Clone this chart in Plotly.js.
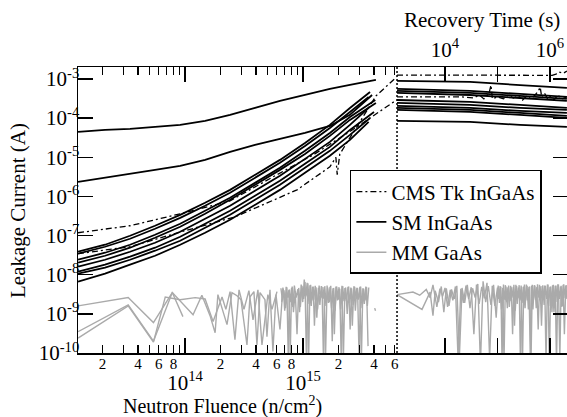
<!DOCTYPE html>
<html><head><meta charset="utf-8">
<script src="https://cdn.plot.ly/plotly-3.0.1.min.js"></script>
<style>html,body{margin:0;padding:0;background:#fff}</style>
</head><body><div id="chart" style="width:567px;height:417px"></div>
<script>
// ---------------- Axis ticks ----------------
const fluTickVals = [2e13,4e13,6e13,8e13,2e14,4e14,6e14,8e14,2e15,4e15,6e15];
const fluTickText = ['2','4','6','8','2','4','6','8','2','4','6'];
const fluMinorVals = [3e13,5e13,7e13,9e13,3e14,5e14,7e14,9e14,3e15,5e15];
const fluDecades = [1e14,1e15];
const fluDecadeText = ['10<sup>14</sup>','10<sup>15</sup>'];
const timeTickVals = [1e4,1e5,1e6];
const timeTickText = ['10<sup>4</sup>','','10<sup>6</sup>'];
const curTickVals = [1e-10,1e-9,1e-8,1e-7,1e-6,1e-5,1e-4,1e-3];
const curTickText = ['10<sup>-10</sup>','10<sup>-9</sup>','10<sup>-8</sup>','10<sup>-7</sup>','10<sup>-6</sup>','10<sup>-5</sup>','10<sup>-4</sup>','10<sup>-3</sup>'];

// ---------------- SM InGaAs: irradiation (fluence) ----------------
const smFluence = [1.24e13, 2.10e13, 3.42e13, 5.57e13, 9.1e13, 1.48e14, 2.41e14, 3.92e14, 6.38e14, 1.04e15, 1.69e15, 2.5e15];
const smEndFluence = [4.15e15, 3.85e15, 3.7e15, 3.6e15, 4.1e15, 4.15e15, 3.6e15, 4.0e15, 3.7e15, 3.6e15];
const smFluenceCurrents = [
  [4.45e-5, 5.0e-5, 5.3e-5, 5.96e-5, 6.71e-5, 8.48e-5, 1.21e-4, 1.82e-4, 2.75e-4, 3.9e-4, 5.56e-4, 7.03e-4, 9.43e-4],
  [2.36e-6, 2.98e-6, 3.77e-6, 4.77e-6, 6.03e-6, 8.58e-6, 1.37e-5, 2.07e-5, 2.95e-5, 4.19e-5, 6.32e-5, 1.21e-4, 3.9e-4],
  [3.86e-8, 5.83e-8, 9.88e-8, 1.78e-7, 3.39e-7, 6.87e-7, 1.47e-6, 3.56e-6, 8.58e-6, 2.33e-5, 6.71e-5, 1.82e-4, 4.66e-4],
  [3.43e-8, 5.18e-8, 8.29e-8, 1.49e-7, 2.84e-7, 5.76e-7, 1.24e-6, 2.98e-6, 7.2e-6, 1.95e-5, 5.62e-5, 1.44e-4, 3.47e-4],
  [2.41e-8, 3.64e-8, 5.83e-8, 1.05e-7, 2.0e-7, 4.29e-7, 9.2e-7, 2.22e-6, 5.37e-6, 1.46e-5, 4.19e-5, 1.07e-4, 2.91e-4],
  [2.02e-8, 3.05e-8, 4.89e-8, 8.79e-8, 1.68e-7, 3.6e-7, 8.19e-7, 1.98e-6, 4.77e-6, 1.22e-5, 3.52e-5, 9.0e-5, 2.44e-4],
  [1.6e-8, 2.41e-8, 3.86e-8, 6.55e-8, 1.25e-7, 2.68e-7, 5.76e-7, 1.39e-6, 3.35e-6, 9.1e-6, 2.47e-5, 6.71e-5, 1.82e-4],
  [1.19e-8, 1.8e-8, 2.88e-8, 4.89e-8, 9.32e-8, 2.0e-7, 4.29e-7, 1.04e-6, 2.5e-6, 6.79e-6, 1.84e-5, 5.0e-5, 1.44e-4],
  [1.06e-8, 1.51e-8, 2.41e-8, 4.1e-8, 7.37e-8, 1.58e-7, 3.39e-7, 8.19e-7, 1.98e-6, 5.37e-6, 1.46e-5, 3.73e-5, 1.01e-4],
  [6.63e-9, 1.06e-8, 1.8e-8, 3.05e-8, 5.83e-8, 1.18e-7, 2.53e-7, 6.1e-7, 1.47e-6, 4.0e-6, 1.09e-5, 2.78e-5, 8.0e-5]
];
// ---------------- SM InGaAs: recovery (time) ----------------
const smTime = [1.22e3, 3.0e4, 2.68e5, 2.1e6];
const smTimeCurrents = [
  [8.9e-4, 8.4e-4, 7.0e-4, 5.9e-4],
  [5.56e-4, 4.94e-4, 4.14e-4, 3.5e-4],
  [4.94e-4, 4.4e-4, 3.7e-4, 3.1e-4],
  [4.4e-4, 3.9e-4, 3.27e-4, 2.75e-4],
  [2.9e-4, 2.6e-4, 2.17e-4, 1.82e-4],
  [2.44e-4, 2.17e-4, 1.82e-4, 1.62e-4],
  [2.05e-4, 1.82e-4, 1.53e-4, 1.36e-4],
  [1.82e-4, 1.62e-4, 1.36e-4, 1.14e-4],
  [1.62e-4, 1.44e-4, 1.21e-4, 1.01e-4],
  [8.5e-5, 8.0e-5, 6.7e-5, 6.0e-5]
];

// ---------------- CMS Tk InGaAs ----------------
const cmsAFluence = [1.24e13, 3.42e13, 9.1e13, 2.41e14, 5.57e14, 1.22e15, 2.87e15, 6.2e15];
const cmsACurrent = [1.18e-7, 1.78e-7, 3.6e-7, 7.7e-7, 3.16e-6, 1.15e-5, 5.97e-5, 2.9e-4];
const cmsBFluence = [1.24e13, 3.42e13, 8.7e13, 2.65e14, 8.9e14, 1.69e15, 1.9e15, 1.95e15, 2.05e15, 2.76e15, 4.16e15, 6.2e15];
const cmsBCurrent = [3.44e-8, 5.2e-8, 1.18e-7, 3.0e-7, 1.47e-6, 5.7e-6, 1.0e-5, 3.6e-6, 1.2e-5, 5.0e-5, 3.7e-4, 1.12e-3];
const cmsATime = [1.22e3, 2e4, 3.5e4, 4.5e4, 5.5e4, 6.3e4, 7.0e4, 7.5e4, 8.0e4, 1.0e5, 1.3e5, 1.6e5, 2.0e5, 2.5e5, 3.0e5, 3.6e5, 4.3e5, 5.2e5, 6.0e5, 6.5e5, 7.0e5, 8.0e5, 9.0e5, 1.0e6, 1.2e6, 1.4e6, 1.7e6, 2.1e6];
const cmsATimeCurrent = [3.5e-4, 3.5e-4, 3.27e-4, 3.9e-4, 3.1e-4, 3.7e-4, 4.65e-4, 7.0e-4, 3.1e-4, 3.5e-4, 3.1e-4, 3.9e-4, 3.27e-4, 3.7e-4, 2.9e-4, 3.7e-4, 3.1e-4, 3.9e-4, 4.94e-4, 6.2e-4, 3.27e-4, 4.14e-4, 3.1e-4, 3.7e-4, 2.9e-4, 3.9e-4, 3.1e-4, 3.5e-4];
const cmsBTime = [1.22e3, 1.0e5, 1.1e6, 1.3e6, 1.5e6, 1.8e6, 2.1e6];
const cmsBTimeCurrent = [1.26e-3, 1.26e-3, 1.24e-3, 1.33e-3, 1.5e-3, 1.4e-3, 1.6e-3];

// ---------------- MM GaAs: irradiation (fluence) ----------------
const mmAFluence = [1.24e13, 3.3e13, 5.4e13, 7.8e13, 9.6e13];
const mmACurrent = [1.6e-9, 2.6e-9, 6.0e-10, 3.5e-9, 8.5e-10];
const mmBFluence = [1.24e13, 3.3e13, 5.4e13, 7.8e13, 1.17e14, 1.39e14, 1.63e14, 1.80e14, 1.90e14, 2.27e14, 2.5e14, 2.76e14, 2.98e14, 3.35e14, 3.55e14, 3.84e14, 4.07e14, 4.32e14, 4.76e14, 4.95e14, 5.25e14, 5.56e14, 5.9e14, 6.38e14, 6.76e14];
const mmBCurrent = [3.5e-10, 1.7e-9, 2.0e-10, 3.5e-9, 9.5e-10, 3.0e-9, 9.0e-10, 3.3e-10, 3.1e-9, 5.3e-10, 3.5e-9, 2.9e-9, 2.3e-9, 1.6e-10, 2.7e-9, 3.7e-9, 1.6e-10, 3.5e-9, 2.3e-9, 2.6e-10, 4.1e-9, 1.1e-10, 3.1e-9, 4.0e-10, 4.7e-9];
const mmCFluence = [1.24e13, 3.3e13, 5.4e13, 6.8e13, 9.1e13, 1.22e14, 1.48e14, 1.73e14, 2.06e14, 2.22e14, 2.41e14, 2.65e14, 2.87e14, 3.16e14, 3.48e14, 3.77e14, 4.15e14, 4.49e14, 5.04e14, 5.46e14, 6.02e14];
const mmCCurrent = [2.4e-10, 1.6e-9, 1.9e-10, 2.7e-9, 2.3e-9, 2.6e-9, 2.4e-9, 6.4e-10, 2.7e-9, 1.3e-9, 3.7e-9, 2.2e-10, 4.1e-9, 1.3e-9, 3.9e-9, 7e-10, 4.1e-9, 1.6e-10, 3.1e-9, 1.3e-9, 3.7e-9];
const mmDFluence = [6.5e14,6.7e14,6.9e14,7.1e14,7.3e14,7.5e14,7.7e14,7.9e14,8.1e14,8.3e14,8.6e14,8.9e14,9.2e14,9.5e14,9.8e14,1.01e15,1.04e15,1.07e15,1.10e15,1.13e15,1.16e15,1.19e15,1.22e15,1.25e15,1.29e15,1.33e15,1.37e15,1.41e15,1.45e15,1.49e15,1.53e15,1.57e15,1.62e15,1.67e15,1.72e15,1.77e15,1.82e15,1.87e15,1.93e15,1.99e15,2.05e15,2.11e15,2.17e15,2.23e15,2.30e15,2.37e15,2.44e15,2.51e15,2.58e15,2.66e15,2.74e15,2.82e15,2.90e15,2.99e15,3.08e15,3.17e15,3.26e15,3.36e15,3.46e15,3.56e15];
const mmDCurrent = [4.5e-9, 2.2e-9, 4.0e-9, 1.4e-9, 4.8e-9, 8e-11,
  4.2e-9, 2.0e-9, 5.0e-9, 1.1e-9, 3.8e-9, 3e-10,
  4.6e-9, 1.5e-9, 5.2e-9, 2.4e-9, 6.5e-9, 6e-11,
  6.0e-9, 1.8e-9, 5.5e-9, 2.2e-9, 5.0e-9, 5e-10,
  4.8e-9, 1.3e-9, 5.3e-9, 2.5e-9, 4.9e-9, 7e-11,
  5.1e-9, 1.6e-9, 4.7e-9, 2.0e-9, 5.2e-9, 2e-10,
  4.6e-9, 1.2e-9, 5.0e-9, 2.3e-9, 4.4e-9, 6e-11,
  5.1e-9, 2.1e-9, 4.7e-9, 1.0e-9, 5.0e-9, 4e-10,
  4.5e-9, 1.7e-9, 4.9e-9, 2.4e-9, 4.6e-9, 7e-11,
  5.0e-9, 1.4e-9, 4.4e-9, 2.2e-9, 4.8e-9, 1.5e-10];
const mmEFluence = [6.6e14,6.8e14,7.0e14,7.2e14,7.4e14,7.6e14,7.8e14,8.0e14,8.2e14,8.45e14,8.75e14,9.05e14,9.35e14,9.65e14,9.95e14,1.025e15,1.055e15,1.085e15,1.115e15,1.145e15,1.175e15,1.205e15,1.235e15,1.27e15,1.31e15,1.35e15,1.39e15,1.43e15,1.47e15,1.51e15,1.55e15,1.60e15,1.645e15,1.695e15,1.745e15,1.795e15,1.845e15,1.90e15,1.96e15,2.02e15,2.08e15,2.14e15,2.20e15,2.265e15,2.335e15,2.405e15,2.475e15,2.545e15,2.62e15,2.70e15,2.78e15,2.86e15,2.945e15,3.035e15,3.125e15,3.215e15,3.31e15,3.41e15,3.51e15,3.61e15];
const mmECurrent = [2.0e-9, 4.4e-9, 1.2e-9, 4.9e-9, 2.6e-9, 4.1e-9,
  9e-11, 4.6e-9, 1.5e-9, 5.3e-9, 2.6e-9, 4.3e-9,
  1.1e-9, 5.6e-9, 2.0e-9, 7.5e-9, 2.8e-9, 6.2e-9,
  5e-11, 5.4e-9, 1.6e-9, 4.9e-9, 2.3e-9, 5.2e-9,
  8e-10, 4.6e-9, 1.7e-9, 5.1e-9, 2.4e-9, 4.8e-9,
  6e-11, 5.3e-9, 1.9e-9, 4.9e-9, 1.4e-9, 4.5e-9,
  3e-10, 5.0e-9, 2.2e-9, 4.8e-9, 1.3e-9, 5.2e-9,
  7e-11, 4.6e-9, 2.1e-9, 4.9e-9, 1.9e-9, 4.7e-9,
  5e-10, 5.1e-9, 1.2e-9, 4.6e-9, 2.3e-9, 4.9e-9,
  6e-11, 4.5e-9, 1.8e-9, 5.0e-9, 1.6e-9, 4.7e-9];
const mmFFluence = [4.05e15, 4.12e15];
const mmFCurrent = [1.4e-9, 1.2e-9];

// ---------------- MM GaAs: recovery (time) ----------------
const mmRTime1 = [1.22e3, 2.45e3, 3.3e3, 4.4e3, 5.2e3, 5.9e3, 7.0e3, 8.0e3, 9.0e3, 1.0e4,
  1.12e4,1.26e4,1.41e4,1.58e4,1.78e4,2.0e4,2.24e4,2.51e4,2.82e4,3.16e4,3.55e4,3.98e4,4.47e4,5.01e4,5.62e4,6.31e4,7.08e4,7.94e4,8.91e4,1.0e5,
  1.06e5,1.12e5,1.19e5,1.26e5,1.33e5,1.41e5,1.50e5,1.58e5,1.68e5,1.78e5,1.88e5,2.0e5,2.11e5,2.24e5,2.37e5,2.51e5,2.66e5,2.82e5,2.99e5,3.16e5,3.35e5,3.55e5,3.76e5,3.98e5,4.22e5,4.47e5,4.73e5,5.01e5,5.31e5,5.62e5,5.96e5,6.31e5,6.68e5,7.08e5,7.50e5,7.94e5,8.41e5,8.91e5,9.44e5,1.0e6,1.06e6,1.12e6,1.19e6,1.26e6,1.33e6,1.41e6,1.50e6,1.58e6,1.68e6,1.78e6,1.88e6,2.0e6,2.11e6];
const mmRCurrent1 = [3.1e-9, 3.6e-9, 3.0e-9, 4.2e-9, 2.6e-9, 5.5e-9, 1.5e-9, 4.4e-9, 2.8e-9, 4.6e-9,
  1.5e-9, 4.1e-9, 2.2e-9, 5.0e-9, 6e-11, 4.4e-9, 1.9e-9, 5.3e-9, 2.4e-9, 4.8e-9, 3e-10, 5.6e-9, 1.8e-9, 4.9e-9, 2.5e-9, 6.2e-9, 7e-11, 5.2e-9, 1.6e-9, 4.7e-9,
  2.4e-9, 5.1e-9, 1.3e-9, 4.6e-9, 6e-11, 5.4e-9, 2.0e-9, 4.8e-9, 1.5e-9, 5.2e-9, 2.6e-9, 4.9e-9, 5e-10, 5.5e-9, 1.8e-9, 4.7e-9, 2.2e-9, 5.3e-9, 5e-11, 5.0e-9, 1.4e-9, 5.6e-9, 2.2e-9, 4.9e-9, 7e-11, 5.2e-9, 1.3e-9, 5.4e-9, 2.5e-9, 4.8e-9, 4e-10, 5.5e-9, 1.8e-9, 5.1e-9, 2.3e-9, 5.3e-9, 6e-11, 5.6e-9, 1.6e-9, 4.9e-9, 2.0e-9, 5.4e-9, 1.1e-9, 5.2e-9, 5e-11, 5.7e-9, 2.4e-9, 5.0e-9, 1.5e-9, 5.5e-9, 3e-10, 5.3e-9, 2.4e-9];
const mmRTime2 = [1.22e3, 3.65e3, 5.2e3, 5.9e3, 6.5e3, 7.5e3, 8.5e3, 9.5e3,
  1.06e4,1.19e4,1.33e4,1.50e4,1.68e4,1.88e4,2.11e4,2.37e4,2.66e4,2.99e4,3.35e4,3.76e4,4.22e4,4.73e4,5.31e4,5.96e4,6.68e4,7.50e4,8.41e4,9.44e4,
  1.03e5,1.09e5,1.16e5,1.22e5,1.30e5,1.37e5,1.45e5,1.54e5,1.63e5,1.73e5,1.83e5,1.94e5,2.05e5,2.18e5,2.31e5,2.44e5,2.59e5,2.74e5,2.90e5,3.08e5,3.26e5,3.45e5,3.66e5,3.87e5,4.10e5,4.35e5,4.60e5,4.87e5,5.16e5,5.47e5,5.79e5,6.14e5,6.50e5,6.89e5,7.29e5,7.73e5,8.18e5,8.67e5,9.18e5,9.72e5,1.03e6,1.09e6,1.16e6,1.22e6,1.30e6,1.37e6,1.45e6,1.54e6,1.63e6,1.73e6,1.83e6,1.94e6,2.05e6];
const mmRCurrent2 = [3.1e-9, 1.3e-9, 3.6e-9, 9e-10, 3.9e-9, 2.0e-9, 5.0e-9, 1.1e-9,
  4.5e-9, 1.6e-9, 4.2e-9, 2.4e-9, 5.2e-9, 8e-11, 4.6e-9, 1.9e-9, 5.5e-9, 1.4e-9, 4.5e-9, 2.6e-9, 5.8e-9, 5e-11, 6.8e-9, 2.0e-9, 5.1e-9, 1.7e-9, 5.5e-9, 8e-10,
  5.3e-9, 1.9e-9, 4.9e-9, 6e-11, 5.6e-9, 2.3e-9, 5.0e-9, 1.4e-9, 5.3e-9, 2.1e-9, 4.8e-9, 3e-10, 5.5e-9, 1.2e-9, 5.1e-9, 2.5e-9, 5.4e-9, 5e-11, 4.9e-9, 1.9e-9, 5.6e-9, 2.2e-9, 5.2e-9, 1.3e-9, 5.0e-9, 6e-11, 5.5e-9, 2.3e-9, 5.3e-9, 1.4e-9, 5.7e-9, 2.6e-9, 5.1e-9, 5e-10, 5.4e-9, 1.7e-9, 5.2e-9, 2.4e-9, 5.6e-9, 5e-11, 5.0e-9, 1.1e-9, 5.5e-9, 2.2e-9, 5.3e-9, 2.0e-9, 5.6e-9, 7e-11, 5.2e-9, 1.6e-9, 5.7e-9, 2.5e-9, 5.4e-9];

// ---------------- Build traces ----------------
const BLACK = '#000000', GRAY = '#aaaaaa';
const FONT = 'Liberation Serif';
const grayLine = {color: GRAY, width: 1.4};
const smLine = {color: BLACK, width: 1.8};
const cmsLine = {color: BLACK, width: 1.3, dash: '6px,3px,2px,3px'};
const traces = [];
function add(x, y, opts) {
  traces.push(Object.assign({type: 'scatter', mode: 'lines', x: x, y: y, showlegend: false, hoverinfo: 'skip'}, opts));
}
// MM GaAs (gray)
add(mmAFluence, mmACurrent, {xaxis: 'x3', yaxis: 'y', line: grayLine});
add(mmBFluence, mmBCurrent, {xaxis: 'x', yaxis: 'y', line: grayLine});
add(mmCFluence, mmCCurrent, {xaxis: 'x', yaxis: 'y', line: grayLine});
add(mmDFluence, mmDCurrent, {xaxis: 'x', yaxis: 'y', line: grayLine, name: 'MM GaAs', showlegend: true, legendrank: 3});
add(mmEFluence, mmECurrent, {xaxis: 'x', yaxis: 'y', line: grayLine});
add(mmFFluence, mmFCurrent, {xaxis: 'x', yaxis: 'y', line: grayLine});
add(mmRTime1, mmRCurrent1, {xaxis: 'x2', yaxis: 'y', line: grayLine});
add(mmRTime2, mmRCurrent2, {xaxis: 'x2', yaxis: 'y2', line: grayLine});
// SM InGaAs (solid black)
smFluenceCurrents.forEach((cur, i) => {
  add(smFluence.concat([smEndFluence[i]]), cur, Object.assign({xaxis: 'x', yaxis: 'y', line: smLine},
    i === 0 ? {name: 'SM InGaAs', showlegend: true, legendrank: 2} : {}));
});
smTimeCurrents.forEach(cur => add(smTime, cur, {xaxis: 'x2', yaxis: 'y', line: smLine}));
// CMS Tk InGaAs (dash-dot)
add(cmsAFluence, cmsACurrent, {xaxis: 'x', yaxis: 'y', line: cmsLine, name: 'CMS Tk InGaAs', showlegend: true, legendrank: 1});
add(cmsBFluence, cmsBCurrent, {xaxis: 'x', yaxis: 'y', line: cmsLine});
add(cmsATime, cmsATimeCurrent, {xaxis: 'x2', yaxis: 'y', line: cmsLine});
add(cmsBTime, cmsBTimeCurrent, {xaxis: 'x2', yaxis: 'y', line: cmsLine});

// ---------------- Layout ----------------
const splitFrac = 0.6524;
const fluRange = [13.093, 15.797];
const timeRange = [3.086, 6.324];
const curRange = [-10, -2.694];
const axLine = {showline: true, linecolor: BLACK, linewidth: 1.5, showgrid: false, zeroline: false, ticks: 'inside', tickcolor: BLACK, tickwidth: 1.3};

const layout = {
  width: 567, height: 417,
  margin: {l: 78, r: 0, t: 67, b: 64, pad: 0},
  paper_bgcolor: '#ffffff', plot_bgcolor: '#ffffff',
  font: {family: FONT, color: BLACK, size: 15},
  showlegend: true,
  legend: {x: 0.556, y: 0.64, xanchor: 'left', yanchor: 'top', bgcolor: '#ffffff', bordercolor: BLACK, borderwidth: 1.5,
           font: {family: FONT, size: 21, color: BLACK}, traceorder: 'normal', tracegroupgap: 0},
  xaxis: Object.assign({}, axLine, {
    type: 'log', domain: [0, splitFrac], range: fluRange, anchor: 'y', mirror: 'ticks', ticklen: 8,
    tickmode: 'array', tickvals: fluTickVals, ticktext: fluTickText, tickfont: {family: FONT, size: 15},
    ticklabelstandoff: -4,
    minor: {tickmode: 'array', tickvals: fluMinorVals, ticks: 'inside', ticklen: 8, tickwidth: 1.3, tickcolor: BLACK, showgrid: false}
  }),
  xaxis3: Object.assign({}, axLine, {
    type: 'log', overlaying: 'x', range: fluRange, anchor: 'y', mirror: 'ticks', showline: false, ticklen: 15,
    tickmode: 'array', tickvals: fluDecades, ticktext: fluDecadeText, tickfont: {family: FONT, size: 21},
    ticklabelstandoff: 15
  }),
  xaxis2: Object.assign({}, axLine, {
    type: 'log', domain: [splitFrac, 1], range: timeRange, anchor: 'y', side: 'top', mirror: 'ticks', ticklen: 15,
    tickmode: 'array', tickvals: timeTickVals, ticktext: timeTickText, tickfont: {family: FONT, size: 21}
  }),
  yaxis: Object.assign({}, axLine, {
    type: 'log', domain: [0, 1], range: curRange, anchor: 'x', ticklen: 15,
    tickmode: 'array', tickvals: curTickVals, ticktext: curTickText, tickfont: {family: FONT, size: 21},
    ticklabelstandoff: -7
  }),
  yaxis2: Object.assign({}, axLine, {
    type: 'log', overlaying: 'y', side: 'right', anchor: 'x2', range: curRange, ticklen: 14,
    tickmode: 'array', tickvals: curTickVals, showticklabels: false
  }),
  shapes: [{type: 'line', xref: 'x2 domain', yref: 'y domain', x0: 0, x1: 0, y0: 0, y1: 1,
            line: {color: BLACK, width: 1.5, dash: '2px,2px'}, layer: 'above'}],
  annotations: [
    {text: 'Leakage Current (A)', xref: 'paper', yref: 'paper', x: -0.1227, y: 0.5, textangle: -90,
     showarrow: false, xanchor: 'center', yanchor: 'middle', font: {family: FONT, size: 21, color: BLACK}},
    {text: 'Neutron Fluence (n/cm<sup>2</sup>)', xref: 'paper', yref: 'paper', x: 0.2965, y: -0.185,
     showarrow: false, xanchor: 'center', yanchor: 'middle', font: {family: FONT, size: 20, color: BLACK}},
    {text: 'Recovery Time (s)', xref: 'paper', yref: 'paper', x: 0.826, y: 1.164,
     showarrow: false, xanchor: 'center', yanchor: 'middle', font: {family: FONT, size: 21, color: BLACK}}
  ]
};

Plotly.newPlot('chart', traces, layout, {displayModeBar: false, staticPlot: true});
</script>
</body></html>
